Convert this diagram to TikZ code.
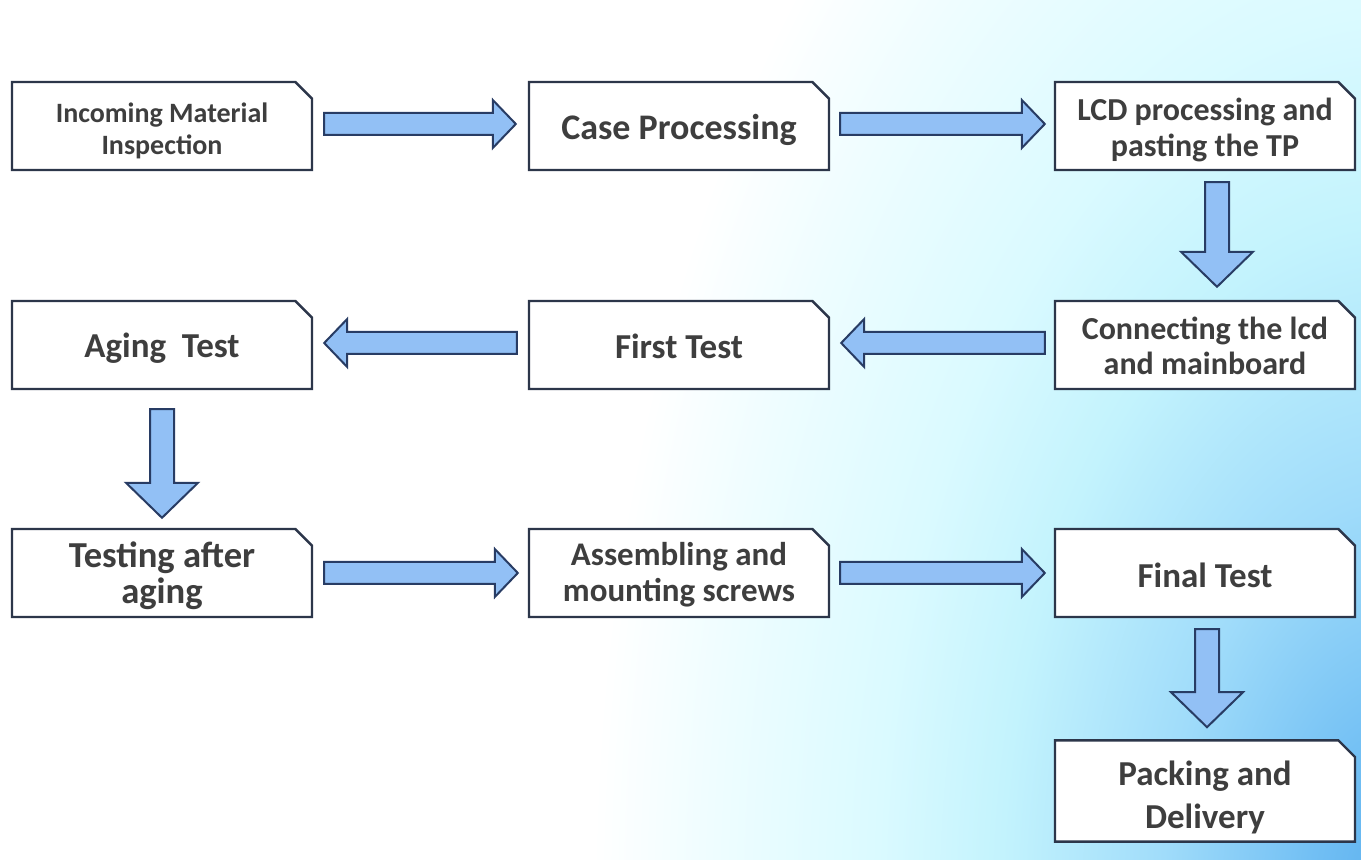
\documentclass[tikz,border=0pt]{standalone}
\usepackage{fontspec}
\setmainfont{Carlito}
\usetikzlibrary{shapes.misc,calc}
\definecolor{boxline}{RGB}{44,54,74}
\definecolor{arrline}{RGB}{40,60,100}
\definecolor{arrfill}{RGB}{146,192,245}
\definecolor{txt}{RGB}{62,62,62}
\definecolor{glowA}{RGB}{90,175,238}
\definecolor{glowB}{RGB}{115,192,244}
\definecolor{glowC}{RGB}{160,220,250}
\definecolor{glowD}{RGB}{195,243,253}
\definecolor{glowE}{RGB}{218,250,255}
\definecolor{glowF}{RGB}{238,253,255}
\pgfdeclareradialshading{bgglow}{\pgfpoint{0bp}{0bp}}{color(0bp)=(glowA);
  color(2.5bp)=(glowB); color(6.25bp)=(glowC); color(10.5bp)=(glowD);
  color(13.75bp)=(glowE); color(18bp)=(glowF); color(21.25bp)=(white); color(50bp)=(white)}
\newcommand{\steplabel}[2][2.5pt]{\raisebox{-#1}[\height][\depth]{\begin{tabular}{@{}c@{}}#2\end{tabular}}}

\tikzset{
  stepbox/.style={chamfered rectangle, chamfered rectangle corners=north east,
    chamfered rectangle xsep=4.5pt, chamfered rectangle ysep=3.8pt,
    draw=boxline, line width=1.2pt, fill=white, minimum width=150pt, minimum height=44pt,
    inner sep=0pt, text=txt},
  arr sw/.store in=\arrsw, arr hw/.store in=\arrhw, arr hl/.store in=\arrhl,
  flow/.style={draw=arrline, line width=1pt, fill=arrfill, line join=miter,
    to path={let \p1=(\tikztostart), \p2=(\tikztotarget),
      \n1={atan2(\y2-\y1,\x2-\x1)}, \n2={veclen(\x2-\x1,\y2-\y1)} in
      ($(\p1)+(\n1+90:\arrsw)$) -- ++(\n1:{\n2-\arrhl}) -- ++(\n1+90:{\arrhw-\arrsw})
      -- (\p2) -- ($(\p2)+(\n1+180:\arrhl)+(\n1-90:\arrhw)$)
      -- ++(\n1+90:{\arrhw-\arrsw}) -- ($(\p1)+(\n1-90:\arrsw)$) -- cycle}},
  hflow/.style={flow, arr sw=5.5pt, arr hw=12pt, arr hl=11.5pt},
  vflow/.style={flow, arr sw=6pt, arr hw=18pt, arr hl=17.5pt}
}

\begin{document}
\begin{tikzpicture}[x=0.5pt, y=-0.5pt]
    \useasboundingbox (0,0) rectangle (1361,860);
    \begin{scope}
        \clip (0,0) rectangle (1361,860);
        \fill[white] (0,0) rectangle (1361,860);
        \shade[shading=bgglow] (1400,900) ellipse [x radius=475pt, y radius=807pt];
    \end{scope}

    % first row
    \node[stepbox, font=\bfseries\fontsize{14}{16}\selectfont] (inspect) at (162,126)
        {\steplabel[3pt]{Incoming Material\\Inspection}};
    \node[stepbox, font=\bfseries\fontsize{18}{20}\selectfont] (casep) at (679,126)
        {\steplabel[3pt]{Case Processing}};
    \node[stepbox, font=\bfseries\fontsize{16}{18}\selectfont] (lcd) at (1205,126)
        {\steplabel{LCD processing and\\pasting the TP}};

    % second row
    \node[stepbox, font=\bfseries\fontsize{16}{17.5}\selectfont] (connect) at (1205,345)
        {\steplabel{Connecting the lcd\\and mainboard}};
    \node[stepbox, font=\bfseries\fontsize{17.5}{20}\selectfont] (firsttest) at (679,345)
        {\steplabel[3pt]{First Test}};
    \node[stepbox, font=\bfseries\fontsize{17.5}{20}\selectfont] (aging) at (162,345)
        {\steplabel{Aging\hspace{0.45em}Test}};

    % third row
    \node[stepbox, font=\bfseries\fontsize{18.3}{17.5}\selectfont] (testaging) at (162,573)
        {\steplabel{Testing after\\aging}};
    \node[stepbox, font=\bfseries\fontsize{16.5}{18}\selectfont] (assemble) at (679,573)
        {\steplabel[1.5pt]{Assembling and\\mounting screws}};
    \node[stepbox, font=\bfseries\fontsize{17.5}{20}\selectfont] (final) at (1205,573)
        {\steplabel[3.5pt]{Final Test}};
    \node[stepbox, font=\bfseries\fontsize{17.5}{21.5}\selectfont] (pack) at (1205,791)
        {\steplabel[3.5pt]{Packing and\\Delivery}};

    \draw[hflow] ([xshift=5.5pt, yshift=1pt]inspect.east) to ([xshift=-6pt, yshift=1pt]casep.west);
    \draw[hflow] ([xshift=5pt, yshift=1pt]casep.east) to ([xshift=-4.5pt, yshift=1pt]lcd.west);
    \draw[vflow] ([xshift=6pt, yshift=-5.5pt]lcd.south) to ([xshift=6pt, yshift=6.5pt]connect.north);
    \draw[hflow] ([xshift=-4.5pt, yshift=1pt]connect.west) to ([xshift=5.5pt, yshift=1pt]firsttest.east);
    \draw[hflow] ([xshift=-5.5pt, yshift=1pt]firsttest.west) to ([xshift=5.5pt, yshift=1pt]aging.east);
    \draw[vflow] ([yshift=-9.5pt]aging.south) to ([yshift=5pt]testaging.north);
    \draw[hflow] ([xshift=5.5pt]testaging.east) to ([xshift=-5pt]assemble.west);
    \draw[hflow] ([xshift=5pt]assemble.east) to ([xshift=-4.5pt]final.west);
    \draw[vflow] ([xshift=1pt, yshift=-5.5pt]final.south) to ([xshift=1pt, yshift=6pt]pack.north);
\end{tikzpicture}
\end{document}
